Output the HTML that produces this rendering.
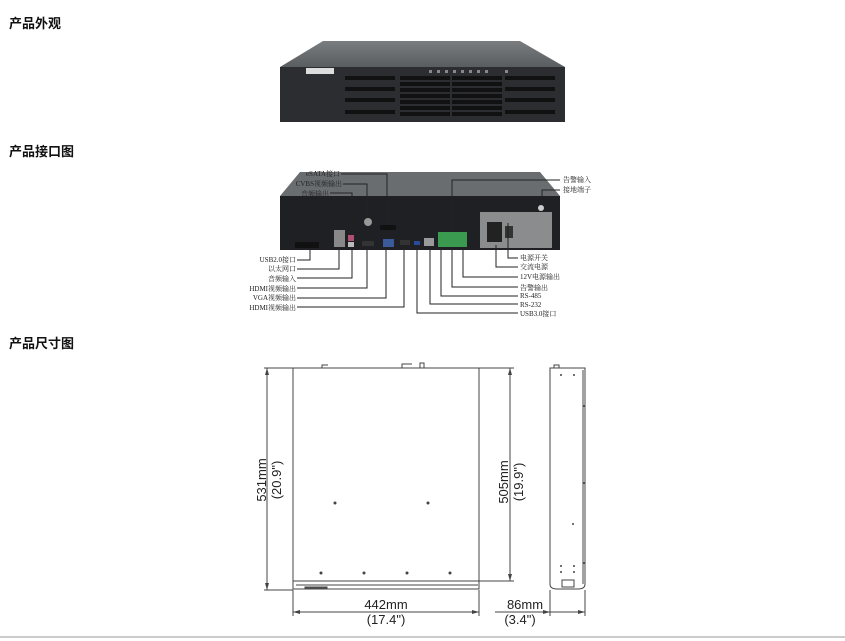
<!DOCTYPE html>
<html><head><meta charset="utf-8"><style>
body{margin:0;background:#fff;width:845px;height:641px;overflow:hidden}
svg{display:block}
.h{font-family:"Liberation Sans","Noto Sans CJK SC",sans-serif;font-weight:bold;font-size:13px;fill:#111}
.l{font-family:"Liberation Serif","Noto Serif CJK SC",serif;font-size:7px;fill:#222}
.d{font-family:"Liberation Sans",sans-serif;font-size:13px;fill:#222}
</style></head><body>
<svg width="845" height="641" viewBox="0 0 845 641" xmlns="http://www.w3.org/2000/svg">
<defs>
<linearGradient id="tp" x1="0" y1="0" x2="0" y2="1"><stop offset="0" stop-color="#7a7d80"/><stop offset="1" stop-color="#5a5d60"/></linearGradient>
</defs>
<text class="h" x="9" y="28">产品外观</text>
<text class="h" x="9" y="156">产品接口图</text>
<text class="h" x="9" y="348">产品尺寸图</text>

<!-- front device -->
<polygon points="323,41 520,41 565,67 280,67" fill="url(#tp)"/>
<rect x="280" y="67" width="285" height="55" fill="#2b2d31"/>
<rect x="306" y="68" width="28" height="6" fill="#ddd"/>
<g fill="#111">
<rect x="345" y="76" width="50" height="4"/><rect x="400" y="76" width="50" height="4"/><rect x="452" y="76" width="50" height="4"/><rect x="505" y="76" width="50" height="4"/>
<rect x="345" y="87" width="50" height="4"/><rect x="400" y="82" width="50" height="4"/><rect x="452" y="82" width="50" height="4"/><rect x="505" y="87" width="50" height="4"/>
<rect x="400" y="88" width="50" height="4"/><rect x="452" y="88" width="50" height="4"/>
<rect x="345" y="98" width="50" height="4"/><rect x="400" y="94" width="50" height="4"/><rect x="452" y="94" width="50" height="4"/><rect x="505" y="98" width="50" height="4"/>
<rect x="400" y="100" width="50" height="4"/><rect x="452" y="100" width="50" height="4"/>
<rect x="400" y="106" width="50" height="4"/><rect x="452" y="106" width="50" height="4"/>
<rect x="345" y="110" width="50" height="4"/><rect x="400" y="112" width="50" height="4"/><rect x="452" y="112" width="50" height="4"/><rect x="505" y="110" width="50" height="4"/>
</g>
<g fill="#888"><rect x="429" y="70" width="3" height="3"/><rect x="437" y="70" width="3" height="3"/><rect x="445" y="70" width="3" height="3"/><rect x="453" y="70" width="3" height="3"/><rect x="461" y="70" width="3" height="3"/><rect x="469" y="70" width="3" height="3"/><rect x="477" y="70" width="3" height="3"/><rect x="485" y="70" width="3" height="3"/><rect x="505" y="70" width="3" height="3"/></g>

<!-- rear device -->
<polygon points="300,172 540,172 560,196 280,196" fill="#6a6d70"/>
<rect x="280" y="196" width="280" height="54" fill="#1f2023"/>
<rect x="480" y="212" width="72" height="36" fill="#8a8c8e"/>
<rect x="487" y="222" width="15" height="20" fill="#222"/>
<rect x="505" y="226" width="8" height="12" fill="#333"/>
<circle cx="541" cy="208" r="3" fill="#ccc"/>
<rect x="295" y="242" width="24" height="6" fill="#111"/>
<rect x="334" y="230" width="11" height="17" fill="#888"/>
<rect x="348" y="235" width="6" height="6" fill="#b05070"/>
<rect x="348" y="242" width="6" height="5" fill="#bbb"/>
<circle cx="368" cy="222" r="4" fill="#999"/>
<rect x="380" y="225" width="16" height="5" fill="#111"/>
<rect x="362" y="241" width="12" height="5" fill="#333"/>
<rect x="383" y="239" width="11" height="8" fill="#3a5a9a"/>
<rect x="400" y="240" width="10" height="5" fill="#333"/>
<rect x="414" y="241" width="6" height="4" fill="#2a4a9a"/>
<rect x="424" y="238" width="10" height="8" fill="#999"/>
<rect x="438" y="232" width="29" height="15" fill="#3a9a50"/>

<g stroke="#222" stroke-width="1" fill="none">
<polyline points="297,260 310,260 310,250"/>
<polyline points="297,269 339,269 339,248"/>
<polyline points="297,278 352,278 352,248"/>
<polyline points="297,288 367,288 367,248"/>
<polyline points="297,298 386,298 386,248"/>
<polyline points="297,307 404,307 404,248"/>
<polyline points="518,313 417,313 417,248"/>
<polyline points="518,304 430,304 430,248"/>
<polyline points="518,296 441,296 441,248"/>
<polyline points="518,287 452,287 452,248"/>
<polyline points="518,277 463,277 463,248"/>
<polyline points="518,267 496,267 496,245"/>
<polyline points="518,258 508,258 508,223"/>
<polyline points="341,174 387,174 387,224"/>
<polyline points="343,184 367,184 367,218"/>
<polyline points="330,193 352,193 352,233"/>
<polyline points="452,232 452,180 560,180"/>
<polyline points="542,204 542,190 560,190"/>
</g>
<g class="l" text-anchor="end">
<text x="296" y="262">USB2.0接口</text>
<text x="296" y="271">以太网口</text>
<text x="296" y="281">音频输入</text>
<text x="296" y="291">HDMI视频输出</text>
<text x="296" y="300">VGA视频输出</text>
<text x="296" y="310">HDMI视频输出</text>
<text x="340" y="176">eSATA接口</text>
<text x="342" y="186">CVBS视频输出</text>
<text x="329" y="196">音频输出</text>
</g>
<g class="l">
<text x="520" y="260">电源开关</text>
<text x="520" y="269">交流电源</text>
<text x="520" y="279">12V电源输出</text>
<text x="520" y="290">告警输出</text>
<text x="520" y="298">RS-485</text>
<text x="520" y="307">RS-232</text>
<text x="520" y="316">USB3.0接口</text>
<text x="563" y="182">告警输入</text>
<text x="563" y="192">接地端子</text>
</g>

<!-- dimension drawing -->
<g stroke="#444" stroke-width="1" fill="none">
<rect x="293" y="368" width="186" height="221" fill="#fff"/>
<line x1="293" y1="581" x2="479" y2="581"/>
<line x1="296" y1="585" x2="478" y2="585"/>
<rect x="305" y="587" width="22" height="2" fill="#555"/>
<line x1="264" y1="368" x2="293" y2="368"/>
<line x1="264" y1="590" x2="293" y2="590"/>
<line x1="267" y1="368" x2="267" y2="590"/>
<line x1="479" y1="368" x2="514" y2="368"/>
<line x1="479" y1="581" x2="514" y2="581"/>
<line x1="510" y1="368" x2="510" y2="581"/>
<line x1="293" y1="590" x2="293" y2="616"/>
<line x1="479" y1="590" x2="479" y2="616"/>
<line x1="293" y1="612" x2="479" y2="612"/>
<path d="M550,368 L585,368 L585,584 Q585,589 578,589 L557,589 Q550,589 550,584 Z" fill="#fff"/>
<line x1="583" y1="370" x2="583" y2="584"/>
<rect x="562" y="580" width="12" height="7"/>
<line x1="550" y1="590" x2="550" y2="616"/>
<line x1="585" y1="590" x2="585" y2="616"/>
<line x1="495" y1="612" x2="585" y2="612"/>
<polyline points="322,368 322,365 328,365"/><polyline points="402,368 402,364 412,364"/><rect x="420" y="363" width="4" height="5"/>
<rect x="554" y="365" width="5" height="3"/>
</g>
<g fill="#444">
<polygon points="267,368 265,375 269,375"/><polygon points="267,590 265,583 269,583"/>
<polygon points="510,368 508,375 512,375"/><polygon points="510,581 508,574 512,574"/>
<polygon points="293,612 300,610 300,614"/><polygon points="479,612 472,610 472,614"/>
<polygon points="550,612 543,610 543,614"/><polygon points="585,612 578,610 578,614"/>
<circle cx="335" cy="503" r="1.5"/><circle cx="428" cy="503" r="1.5"/>
<circle cx="321" cy="573" r="1.5"/><circle cx="364" cy="573" r="1.5"/><circle cx="407" cy="573" r="1.5"/><circle cx="450" cy="573" r="1.5"/>
<circle cx="561" cy="375" r="1"/><circle cx="574" cy="375" r="1"/><circle cx="584" cy="406" r="1"/><circle cx="584" cy="483" r="1"/><circle cx="573" cy="524" r="1"/><circle cx="584" cy="563" r="1"/><circle cx="561" cy="566" r="1"/><circle cx="574" cy="566" r="1"/><circle cx="561" cy="572" r="1"/><circle cx="574" cy="572" r="1"/>
</g>
<g class="d" text-anchor="middle">
<text transform="translate(266,480) rotate(-90)">531mm</text>
<text transform="translate(281,480) rotate(-90)">(20.9")</text>
<text transform="translate(508,482) rotate(-90)">505mm</text>
<text transform="translate(523,482) rotate(-90)">(19.9")</text>
<text x="386" y="609">442mm</text>
<text x="386" y="624">(17.4")</text>
<text x="525" y="609">86mm</text>
<text x="520" y="624">(3.4")</text>
</g>
<line x1="0" y1="637" x2="845" y2="637" stroke="#ccc" stroke-width="2"/>
</svg>
</body></html>
